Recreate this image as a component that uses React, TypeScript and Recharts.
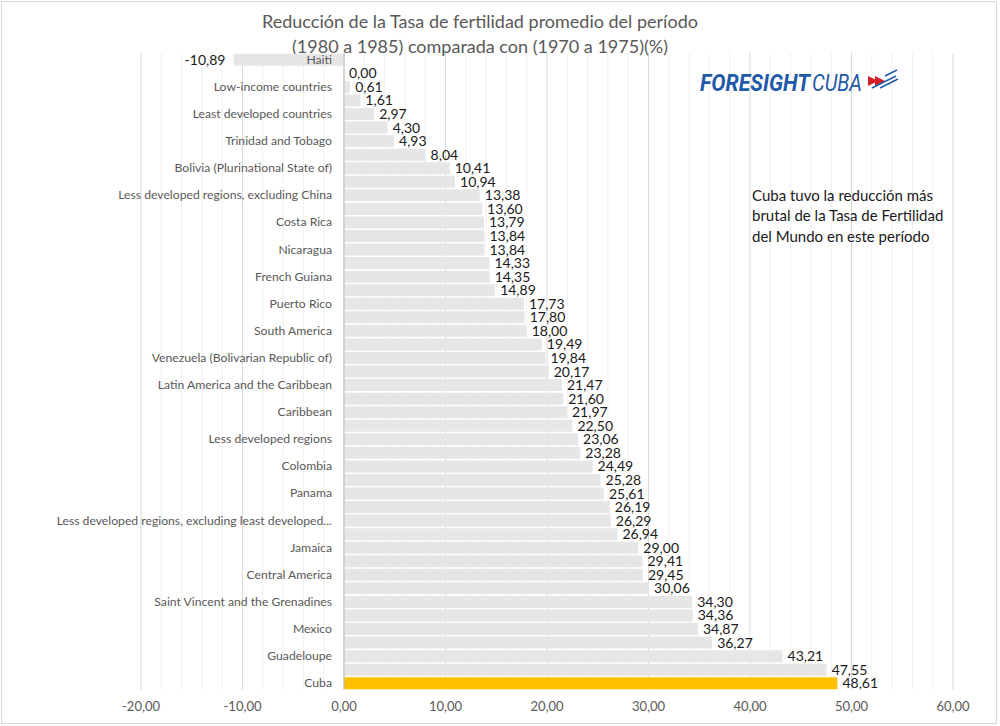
import React from 'react';
import {
  BarChart,
  Bar,
  XAxis,
  YAxis,
  Cell,
  LabelList,
  ReferenceLine,
  CartesianGrid,
} from 'recharts';

// categories, top to bottom (odd rows are not labelled in the original)
const countries = [
  'Haiti', 'Guyana', 'Low-income countries', 'Paraguay', 'Least developed countries',
  'Honduras', 'Trinidad and Tobago', 'Guatemala', 'Bolivia (Plurinational State of)', 'El Salvador',
  'Less developed regions, excluding China', 'Argentina', 'Costa Rica', 'Uruguay', 'Nicaragua',
  'World', 'French Guiana', 'Dominican Republic', 'Puerto Rico', 'Ecuador',
  'South America', 'Peru', 'Venezuela (Bolivarian Republic of)', 'Suriname', 'Latin America and the Caribbean',
  'Brazil', 'Caribbean', 'Barbados', 'Less developed regions', 'Chile',
  'Colombia', 'Bahamas', 'Panama', 'Grenada', 'Less developed regions, excluding least developed...',
  'Saint Lucia', 'Jamaica', 'Belize', 'Central America', 'Aruba',
  'Saint Vincent and the Grenadines', 'Curaçao', 'Mexico', 'Martinique', 'Guadeloupe',
  'United States Virgin Islands', 'Cuba',
];

const reduction = [
  -10.89, 0.0, 0.61, 1.61, 2.97,
  4.3, 4.93, 8.04, 10.41, 10.94,
  13.38, 13.6, 13.79, 13.84, 13.84,
  14.33, 14.35, 14.89, 17.73, 17.8,
  18.0, 19.49, 19.84, 20.17, 21.47,
  21.6, 21.97, 22.5, 23.06, 23.28,
  24.49, 25.28, 25.61, 26.19, 26.29,
  26.94, 29.0, 29.41, 29.45, 30.06,
  34.3, 34.36, 34.87, 36.27, 43.21,
  47.55, 48.61,
];

const xTicks = [-20, -10, 0, 10, 20, 30, 40, 50, 60];
const minorTicks = [-18, -16, -14, -12, -8, -6, -4, -2, 2, 4, 6, 8, 12, 14, 16, 18, 22, 24, 26, 28, 32, 34, 36, 38, 42, 44, 46, 48, 52, 54, 56, 58];
const highlight = 'Cuba';

const data = countries.map((name, i) => ({ name, value: reduction[i] }));

const W = 1000;
const H = 726;
const Y_AXIS_W = 131;
const MARGIN = { top: 53, right: 47, bottom: 6, left: 141 - Y_AXIS_W };
const PLOT_LEFT = 141;
const PLOT_W = W - PLOT_LEFT - MARGIN.right;
const X_MIN = -20;
const X_MAX = 60;
const toPx = (v: number) => PLOT_LEFT + ((v - X_MIN) / (X_MAX - X_MIN)) * PLOT_W;
const ZERO_X = toPx(0);

const FONT = 'Lato, "Liberation Sans", sans-serif';
const fmt = (v: number) => v.toFixed(2).replace('.', ',');

const gridX = (values: number[]) => (props: any) => {
  const scale = props?.xAxis?.scale;
  return values.map((v) => (typeof scale === 'function' ? scale(v) : toPx(v)));
};

const CategoryTick = (props: any) => {
  const { y, payload } = props;
  return (
    <text x={ZERO_X - 12} y={y} dy={4} textAnchor="end" fill="#595959" fontSize={12.2} fontFamily={FONT}>
      {payload.value}
    </text>
  );
};

const ValueLabel = (props: any) => {
  const { x, y, width, height, value } = props;
  const left = Math.min(x, x + width);
  const right = Math.max(x, x + width);
  const neg = value < 0;
  return (
    <text
      x={neg ? left - 8 : right + 5}
      y={y + height / 2}
      dy={5}
      textAnchor={neg ? 'end' : 'start'}
      fill="#1a1a1a"
      fontSize={14}
      fontFamily={FONT}
    >
      {fmt(value)}
    </text>
  );
};

export default function App() {
  return (
    <div style={{ position: 'absolute', left: 0, top: 0, width: W, height: H, background: '#fff', fontFamily: FONT }}>
      <div style={{ position: 'absolute', left: 1, top: 1, width: W - 4, height: H - 3, border: '1px solid #d9d9d9', boxSizing: 'border-box' }} />
      <BarChart
        width={W}
        height={H}
        data={data}
        layout="vertical"
        margin={MARGIN}
        barCategoryGap={0.8}
        style={{ position: 'absolute', left: 0, top: 0 }}
      >
        <CartesianGrid horizontal={false} stroke="#f0f0f0" verticalCoordinatesGenerator={gridX(minorTicks)} />
        <CartesianGrid horizontal={false} stroke="#d9d9d9" verticalCoordinatesGenerator={gridX(xTicks)} />
        <XAxis
          type="number"
          domain={[X_MIN, X_MAX]}
          ticks={xTicks}
          tickFormatter={fmt}
          axisLine={false}
          tickLine={false}
          height={30}
          tick={{ fill: '#595959', fontSize: 13, fontFamily: FONT }}
          tickMargin={6}
        />
        <YAxis
          type="category"
          dataKey="name"
          width={Y_AXIS_W}
          interval={1}
          axisLine={false}
          tickLine={false}
          tick={<CategoryTick />}
        />
        <Bar dataKey="value" fill="#e6e6e6" minPointSize={0.01} isAnimationActive={false}>
          {data.map((d) => (
            <Cell key={d.name} fill={d.name === highlight ? '#ffc000' : '#e6e6e6'} />
          ))}
          <LabelList dataKey="value" content={<ValueLabel />} />
        </Bar>
        <ReferenceLine x={0} stroke="#bfbfbf" strokeWidth={1} />
        <text x={480} y={28} textAnchor="middle" fill="#595959" fontSize={18} fontFamily={FONT}>
          Reducción de la Tasa de fertilidad promedio del período
        </text>
        <text x={480} y={53} textAnchor="middle" fill="#595959" fontSize={18} fontFamily={FONT}>
          (1980 a 1985) comparada con (1970 a 1975)(%)
        </text>
        <g>
          <text y={91} fill="#1f5aa8" fontSize={24} fontStyle="italic" fontFamily="Roboto, sans-serif">
            <tspan x={700} fontWeight="bold" textLength={110} lengthAdjust="spacingAndGlyphs">FORESIGHT</tspan>
            <tspan x={812} textLength={50} lengthAdjust="spacingAndGlyphs">CUBA</tspan>
          </text>
          <polygon points="868,76 878,81 868,86" fill="#d32027" />
          <polygon points="875,76 885,81 875,86" fill="#d32027" />
          <line x1={872} y1={88} x2={896} y2={76} stroke="#1f5aa8" strokeWidth={1.5} />
          <line x1={880} y1={88} x2={898} y2={79} stroke="#1f5aa8" strokeWidth={1.5} />
          <line x1={885} y1={76} x2={897} y2={70} stroke="#1f5aa8" strokeWidth={1.5} />
        </g>
        <text fill="#1a1a1a" fontSize={15} fontFamily={FONT}>
          <tspan x={752} y={201}>Cuba tuvo la reducción más</tspan>
          <tspan x={752} y={221}>brutal de la Tasa de Fertilidad</tspan>
          <tspan x={752} y={242}>del Mundo en este período</tspan>
        </text>
      </BarChart>
    </div>
  );
}
